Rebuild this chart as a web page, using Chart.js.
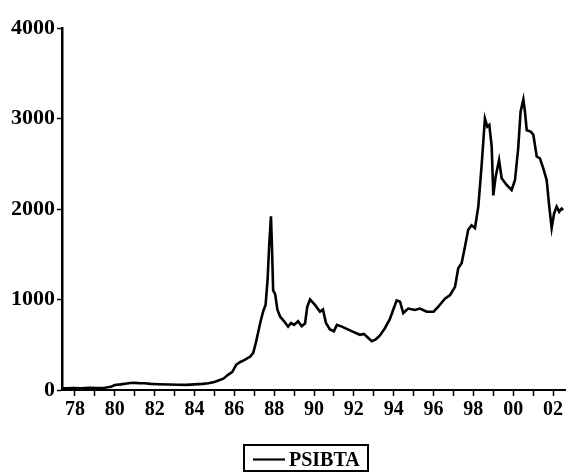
<!DOCTYPE html>
<html>
<head>
<meta charset="utf-8">
<script src="https://cdn.jsdelivr.net/npm/chart.js@4"></script>
<style>
  html, body { margin: 0; padding: 0; background: #fff; }
  #wrap { width: 566px; height: 472px; }
</style>
</head>
<body>
<div id="wrap"><canvas id="c" width="566" height="472"></canvas></div>
<script>
// PSIBTA index, observation dates as decimal years
const dates = [
  1977.35, 1977.6, 1977.9, 1978.3, 1978.7, 1979.1, 1979.5, 1979.8,
  1980.0, 1980.3, 1980.6, 1980.9, 1981.2, 1981.5, 1981.8, 1982.2,
  1982.7, 1983.2, 1983.6, 1984.0, 1984.4, 1984.7, 1985.0, 1985.2,
  1985.45, 1985.7, 1985.9, 1986.1, 1986.3, 1986.5, 1986.8, 1986.95,
  1987.1, 1987.3, 1987.45, 1987.57, 1987.67, 1987.75, 1987.84, 1987.89,
  1987.95, 1988.05, 1988.16, 1988.3, 1988.5, 1988.7, 1988.85, 1989.0,
  1989.2, 1989.38, 1989.55, 1989.66, 1989.8, 1990.05, 1990.3, 1990.45,
  1990.6, 1990.8, 1991.0, 1991.15, 1991.4, 1991.7, 1992.0, 1992.3,
  1992.5, 1992.7, 1992.9, 1993.1, 1993.3, 1993.55, 1993.8, 1994.0,
  1994.15, 1994.32, 1994.48, 1994.73, 1995.07, 1995.32, 1995.66, 1996.0,
  1996.24, 1996.57, 1996.83, 1997.08, 1997.24, 1997.41, 1997.58, 1997.74,
  1997.91, 1998.08, 1998.25, 1998.42, 1998.58, 1998.7, 1998.8, 1998.92,
  1999.0, 1999.12, 1999.29, 1999.42, 1999.67, 1999.92, 2000.09, 2000.25,
  2000.37, 2000.51, 2000.59, 2000.68, 2000.88, 2001.01, 2001.18, 2001.34,
  2001.51, 2001.68, 2001.81, 2001.93, 2002.05, 2002.18, 2002.31, 2002.43,
  2002.51
];

const psibta = [
  20, 18, 22, 20, 24, 22, 25, 35,
  55, 62, 72, 80, 76, 74, 68, 64,
  60, 58, 57, 62, 68, 75, 88, 105,
  125, 170, 200, 280, 310, 330, 370, 410,
  540, 740, 870, 940, 1220, 1600, 1920, 1580,
  1100, 1060, 890, 810, 760, 700, 740, 720,
  760, 705, 735, 920, 1000, 940, 865, 890,
  740, 670, 650, 720, 700, 670, 640, 610,
  620, 580, 540, 560, 600, 680, 780, 900,
  990, 975, 850, 900, 885, 900, 865, 865,
  920, 1010, 1050, 1140, 1345, 1400, 1585, 1770,
  1820, 1790, 2030, 2500, 3000, 2910, 2930, 2690,
  2150, 2360, 2540, 2340, 2265, 2210, 2320, 2670,
  3075, 3210, 3075, 2870, 2855, 2820, 2580, 2560,
  2450, 2320, 2025, 1790, 1950, 2025, 1970, 2005,
  1990
];

// one tick per year, two-digit labels on even years
const tickYears = [];
for (let y = 1978; y <= 2002; y++) tickYears.push(y);
const yTicks = [0, 1000, 2000, 3000, 4000];
const seriesName = 'PSIBTA';

const FONT = '"Liberation Serif", "Times New Roman", serif';

// Boxed legend under the plot
const boxedLegend = {
  id: 'boxedLegend',
  afterDraw(chart) {
    const ctx = chart.ctx;
    ctx.save();
    ctx.strokeStyle = '#000';
    ctx.lineWidth = 2;
    ctx.strokeRect(244, 445, 124, 26);
    ctx.beginPath();
    ctx.lineWidth = 2.2;
    ctx.moveTo(253, 459.5);
    ctx.lineTo(285, 459.5);
    ctx.stroke();
    ctx.fillStyle = '#000';
    ctx.font = 'bold 20px ' + FONT;
    ctx.textBaseline = 'alphabetic';
    ctx.textAlign = 'left';
    ctx.fillText(seriesName, 289, 466);
    ctx.restore();
  }
};

new Chart(document.getElementById('c'), {
  type: 'line',
  data: {
    datasets: [{
      label: seriesName,
      data: dates.map((d, i) => ({ x: d, y: psibta[i] })),
      borderColor: '#000',
      borderWidth: 2.6,
      pointRadius: 0,
      tension: 0,
      fill: false
    }]
  },
  options: {
    responsive: false,
    animation: false,
    layout: { padding: { top: 28, right: 0, bottom: 36, left: 0 } },
    plugins: { legend: { display: false }, tooltip: { enabled: false } },
    scales: {
      x: {
        type: 'linear',
        min: 1977.35,
        max: 2002.65,
        afterFit(s) { s.height = 46; },
        afterBuildTicks(s) { s.ticks = tickYears.map(v => ({ value: v })); },
        border: { display: true, color: '#000', width: 2 },
        grid: { drawOnChartArea: false, drawTicks: true, tickLength: 6, tickWidth: 1.5, tickColor: '#000' },
        ticks: {
          color: '#000',
          font: { family: FONT, size: 20, weight: 'bold' },
          padding: 2,
          maxRotation: 0,
          autoSkip: false,
          callback(v) {
            return v % 2 === 0 ? String(v % 100).padStart(2, '0') : '';
          }
        }
      },
      y: {
        min: 0,
        max: 4000,
        afterFit(s) { s.width = 62; },
        afterBuildTicks(s) { s.ticks = yTicks.map(v => ({ value: v })); },
        border: { display: true, color: '#000', width: 2.5 },
        grid: { drawOnChartArea: false, drawTicks: true, tickLength: 5, tickWidth: 1.5, tickColor: '#000' },
        ticks: {
          color: '#000',
          font: { family: FONT, size: 22, weight: 'bold' },
          padding: 2,
          callback(v) { return String(v); }
        }
      }
    }
  },
  plugins: [boxedLegend]
});
</script>
</body>
</html>
